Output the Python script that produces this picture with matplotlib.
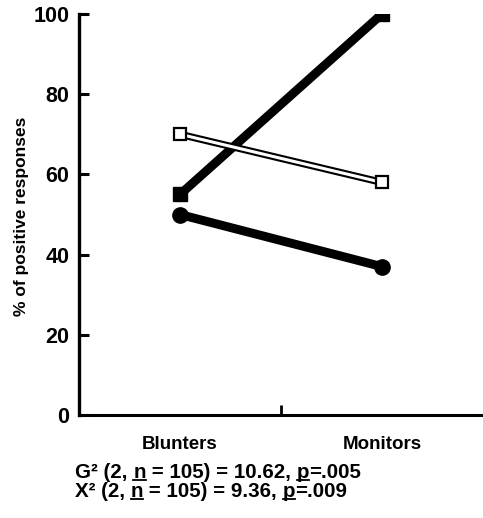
import matplotlib
matplotlib.use("Agg")
import matplotlib.pyplot as plt
from matplotlib.lines import Line2D

plt.rcParams['font.family'] = ['Liberation Sans', 'DejaVu Sans']
plt.rcParams['font.weight'] = 'bold'

groups = ["Blunters", "Monitors"]
series_a = [55, 100]   # thick black, rising
series_b = [50, 37]    # thick black, falling
series_c = [70, 58]    # open markers
y_ticks = [0, 20, 40, 60, 80, 100]
y_label = "% of positive responses"
stats_lines = [
    [("G\u00b2 (2, ", False), ("n", True), (" = 105) = 10.62, ", False), ("p", True), ("=.005", False)],
    [("X\u00b2 (2, ", False), ("n", True), (" = 105) = 9.36, ", False), ("p", True), ("=.009", False)],
]

W, H = 483, 518
fig = plt.figure(figsize=(W / 100, H / 100), dpi=100)
ax = fig.add_axes([79 / W, 1 - 415 / H, 1 - 79 / W, (415 - 14) / H])

x = list(range(len(groups)))

ax.plot(x, series_a, color='black', lw=6.4, marker='s', ms=10,
        solid_capstyle='round', zorder=3)
ax.plot(x, series_b, color='black', lw=6.4, marker='o', ms=11,
        solid_capstyle='round', zorder=3)
# open series: black outline with a white core
ax.plot(x, series_c, color='black', lw=5.2, zorder=4)
ax.plot(x, series_c, color='white', lw=2.2, zorder=5)
ax.plot(x, series_c, ls='none', marker='s', ms=9, mfc='white', mec='black',
        mew=1.6, zorder=6)

ax.set_xlim(-0.5, 1.5)
ax.set_ylim(0, 100)

for s in ('top', 'right'):
    ax.spines[s].set_visible(False)
ax.spines['left'].set_linewidth(2.4)
ax.spines['bottom'].set_linewidth(2.2)

ax.set_yticks(y_ticks)
ax.set_yticklabels([str(v) for v in y_ticks], fontsize=15.5, fontweight='bold')
ax.tick_params(axis='y', direction='in', length=7, width=2.2, pad=7)

ax.set_xticks(x)
ax.set_xticklabels(groups, fontsize=13.5, fontweight='bold')
ax.tick_params(axis='x', which='major', length=0, pad=15)
ax.set_xticks([0.5], minor=True)
ax.tick_params(axis='x', which='minor', direction='in', length=7, width=2)

fig.text(22 / W, 1 - 216 / H, y_label, rotation=90, ha='center', va='center',
         fontsize=12.5, fontweight='bold')

# statistics lines with underlined n and p
fig.canvas.draw()
renderer = fig.canvas.get_renderer()
y_tops = [463, 482]
for parts, ytop in zip(stats_lines, y_tops):
    xpos = 75
    for txt, under in parts:
        t = fig.text(xpos / W, 1 - ytop / H, txt, ha='left', va='top',
                     fontsize=14.8, fontweight='bold')
        bb = t.get_window_extent(renderer)
        if under:
            yline = bb.y0 + 2
            fig.add_artist(Line2D([bb.x0 / W, bb.x1 / W], [yline / H, yline / H],
                                  color='black', lw=1.3, transform=fig.transFigure))
        xpos += bb.width

fig.savefig("out.png", dpi=100)
